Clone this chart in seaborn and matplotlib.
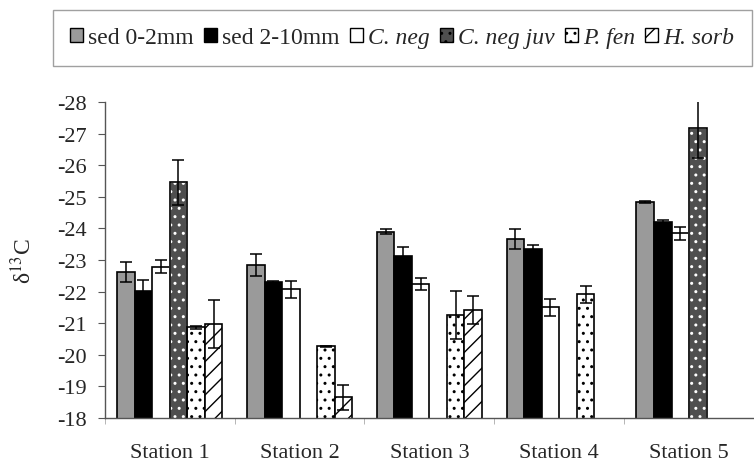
import numpy as np
import pandas as pd
import matplotlib
matplotlib.use("Agg")
import matplotlib.pyplot as plt
import seaborn as sns

stations = ["Station 1", "Station 2", "Station 3", "Station 4", "Station 5"]
series = ["sed 0-2mm", "sed 2-10mm", "C. neg", "C. neg juv", "P. fen", "H. sorb"]
nan = np.nan

sed_0_2 = [-22.63, -22.84, -23.90, -23.66, -24.84]
sed_0_2_err = [0.32, 0.36, 0.08, 0.32, 0.04]
sed_2_10 = [-22.03, -22.29, -23.14, -23.35, -24.19]
sed_2_10_err = [0.33, 0.03, 0.27, 0.13, 0.08]
c_neg = [-22.79, -22.08, -22.24, -21.50, -23.85]
c_neg_err = [0.20, 0.27, 0.20, 0.28, 0.21]
c_neg_juv = [-25.46, nan, nan, nan, -27.17]
c_neg_juv_err = [0.72, nan, nan, nan, 0.93]
p_fen = [-20.87, -20.27, -21.27, -21.91, nan]
p_fen_err = [0.05, 0.02, 0.76, 0.27, nan]
h_sorb = [-20.97, -18.65, -21.43, nan, nan]
h_sorb_err = [0.77, 0.39, 0.44, nan, nan]

values = [sed_0_2, sed_2_10, c_neg, c_neg_juv, p_fen, h_sorb]
errors = [sed_0_2_err, sed_2_10_err, c_neg_err, c_neg_juv_err, p_fen_err, h_sorb_err]

rows = []
for name, vals, errs in zip(series, values, errors):
    for st, v, e in zip(stations, vals, errs):
        rows.append({"station": st, "series": name, "value": v, "err": e})
df = pd.DataFrame(rows).dropna()

sns.set_style("ticks")
plt.rcParams["font.family"] = ["Liberation Serif", "DejaVu Serif"]
plt.rcParams["mathtext.fontset"] = "stix"
plt.rcParams["axes.unicode_minus"] = False

face = ["#9a9a9a", "black", "white", "#4f4f4f", "white", "white"]
hatches = [None, None, None, "..", "..", "//"]

fig = plt.figure(figsize=(7.54, 4.64), dpi=100)
ax = fig.add_axes([0.139, 0.097, 0.861, 0.681])

sns.barplot(data=df, x="station", y="value", hue="series", order=stations,
            hue_order=series, palette=dict(zip(series, face)), errorbar=None,
            width=0.81, saturation=1, edgecolor="black", linewidth=1.2,
            legend=False, ax=ax)

bar_groups = list(ax.containers)
for i, cont in enumerate(bar_groups):
    sub = df[df["series"] == series[i]]
    xs = []
    for bar in cont:
        bar.set_facecolor(face[i])
        if hatches[i]:
            bar.set_hatch(hatches[i])
        if i == 3:
            bar.set_edgecolor("white")
            ax.add_patch(plt.Rectangle(bar.get_xy(), bar.get_width(), bar.get_height(),
                                       fill=False, edgecolor="black", lw=1.2, zorder=bar.get_zorder()))
        xs.append(bar.get_x() + bar.get_width() / 2)
    ax.errorbar(xs, sub["value"].values, yerr=sub["err"].values, fmt="none",
                ecolor="black", elinewidth=1.1, capsize=4, capthick=1.1, zorder=5)

ax.set_ylim(-18, -28)
ax.set_xlim(-0.5, 4.5)
ax.set_yticks(range(-28, -17))
ax.set_xlabel("")
ax.set_ylabel(r"δ$^{13}$C", fontsize=17)
ax.yaxis.set_label_coords(-0.105, 0.5)
ax.tick_params(axis="y", labelsize=16, length=5, pad=8, color="#555555")
ax.tick_params(axis="x", which="major", labelsize=16, length=0, pad=18)
ax.set_xticks(np.arange(-0.5, 4.6, 1), minor=True)
ax.tick_params(axis="x", which="minor", length=4, color="#aaaaaa")
sns.despine(ax=ax)
for s in ["left", "bottom"]:
    ax.spines[s].set_color("#555555")
    ax.spines[s].set_linewidth(1)

handles = []
for i, name in enumerate(series):
    h = plt.Rectangle((0, 0), 1, 1, facecolor=face[i], hatch=hatches[i],
                      edgecolor="black", lw=1)
    handles.append(h)
leg = fig.legend(handles, series, loc="center", bbox_to_anchor=(0.070, 0.851, 0.927, 0.131),
                 mode="expand", ncol=6, fontsize=17, frameon=True, fancybox=False,
                 edgecolor="#888888", handlelength=0.55, handleheight=0.55,
                 handletextpad=0.2, columnspacing=0.5, borderpad=0.75, borderaxespad=0)
leg.get_frame().set_linewidth(1)
for t in leg.get_texts()[2:]:
    t.set_fontstyle("italic")

fig.savefig("out.png", dpi=100)
